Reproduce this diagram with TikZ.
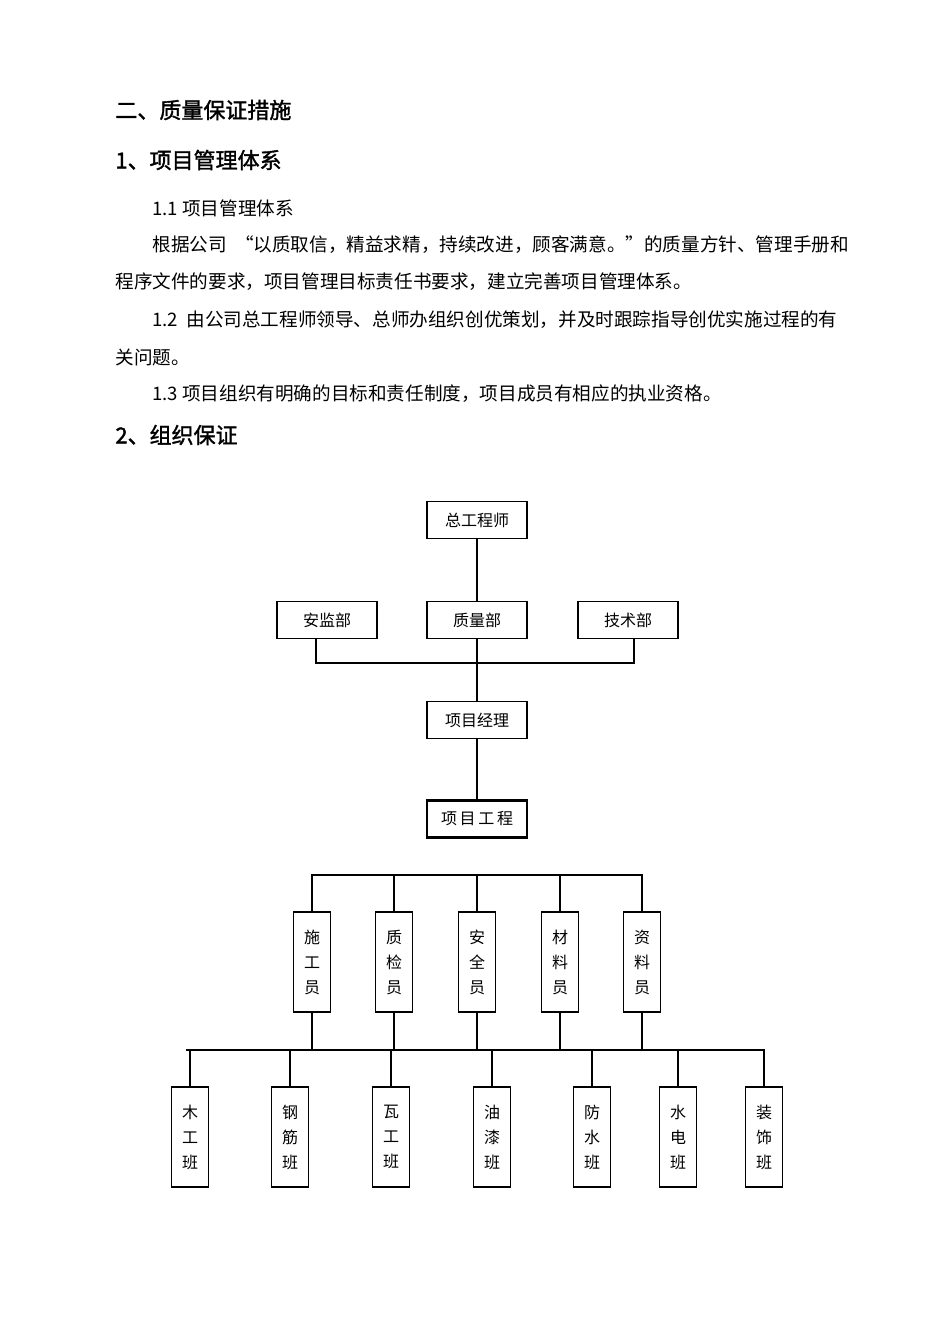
\documentclass[tikz,border=0pt]{standalone}
\usepackage{fontspec}
\setmainfont{Noto Sans CJK SC}
\newfontfamily\hei[FakeBold=1.5]{Noto Sans CJK SC}
\begin{document}
\begin{tikzpicture}[x=0.5pt, y=-0.5pt,
    box/.style={draw, line width=0.6pt, minimum width=50pt, minimum height=18.5pt, inner sep=0pt, font=\fontsize{8}{10}\selectfont},
    vbox/.style={draw, line width=0.6pt, minimum width=18.5pt, minimum height=50pt, inner sep=0pt, align=center, font=\fontsize{8}{12.5}\selectfont},
    head/.style={anchor=west, inner sep=0pt, font=\fontsize{11}{13}\hei},
    body/.style={anchor=west, inner sep=0pt, font=\fontsize{9.3}{11}\selectfont},
    link/.style={line width=0.6pt}]
  \useasboundingbox (0,0) rectangle (950,1344);
  % 文字部分
  \node[head] (h1) at (115,110) {二、质量保证措施};
  \node[head] (h2) at (115,160) {1、项目管理体系};
  \node[body] (p1) at (152,208) {1.1 项目管理体系};
  \node[body] (p2) at (152,245) {根据公司 \ “以质取信，精益求精，持续改进，顾客满意。”的质量方针、管理手册和};
  \node[body] (p3) at (115,282) {程序文件的要求，项目管理目标责任书要求，建立完善项目管理体系。};
  \node[body] (p4) at (152,320) {1.2 \ 由公司总工程师领导、总师办组织创优策划，并及时跟踪指导创优实施过程的有};
  \node[body] (p5) at (115,357) {关问题。};
  \node[body] (p6) at (152,394) {1.3 项目组织有明确的目标和责任制度，项目成员有相应的执业资格。};
  \node[head] (h3) at (115,435) {2、组织保证};
  % 组织结构图
  \node[box] (zgcs) at (477,520) {总工程师};
  \node[box] (ajb) at (327,620) {安监部};
  \node[box] (zlb) at (477,620) {质量部};
  \node[box] (jsb) at (628,620) {技术部};
  \node[box] (xmjl) at (477,720) {项目经理};
  \node[box, line width=1.3pt] (xmgc) at (477,819) {项\,目\,工\,程};
  \draw[link] (zgcs) -- (zlb);
  \draw[link] (zlb) -- (xmjl);
  \draw[link] (xmjl) -- (xmgc);
  \coordinate (busA) at (316,663);
  \coordinate (busB) at (634,663);
  \draw[link] (ajb.south -| busA) -- (busA) -- (busB) -- (jsb.south -| busB);
  % 人员
  \foreach \n/\x/\t in {sgy/312/施\\工\\员, zjy/394/质\\检\\员, aqy/477/安\\全\\员, cly/560/材\\料\\员, zly/642/资\\料\\员}
    \node[vbox] (\n) at (\x,962) {\t};
  \coordinate (midL) at (312,875);
  \coordinate (midR) at (642,875);
  \draw[link] (sgy.north) -- (midL) -- (midR) -- (zly.north);
  \foreach \n in {zjy,aqy,cly}
    \draw[link] (\n.north) -- (\n.north |- midL);
  % 班组
  \coordinate (lowL) at (186,1050);
  \coordinate (lowR) at (765,1050);
  \draw[line width=1.4pt] (lowL) -- (lowR);
  \foreach \n in {sgy,zjy,aqy,cly,zly}
    \draw[link] (\n.south) -- (\n.south |- lowL);
  \foreach \n/\x/\t in {mgb/190/木\\工\\班, gjb/290/钢\\筋\\班, wgb/391/瓦\\工\\班, yqb/492/油\\漆\\班, fsb/592/防\\水\\班, sdb/678/水\\电\\班, zsb/764/装\\饰\\班}
    \node[vbox] (\n) at (\x,1137) {\t};
  \foreach \n in {mgb,gjb,wgb,yqb,fsb,sdb,zsb}
    \draw[link] (\n.north) -- (\n.north |- lowL);
\end{tikzpicture}
\end{document}
